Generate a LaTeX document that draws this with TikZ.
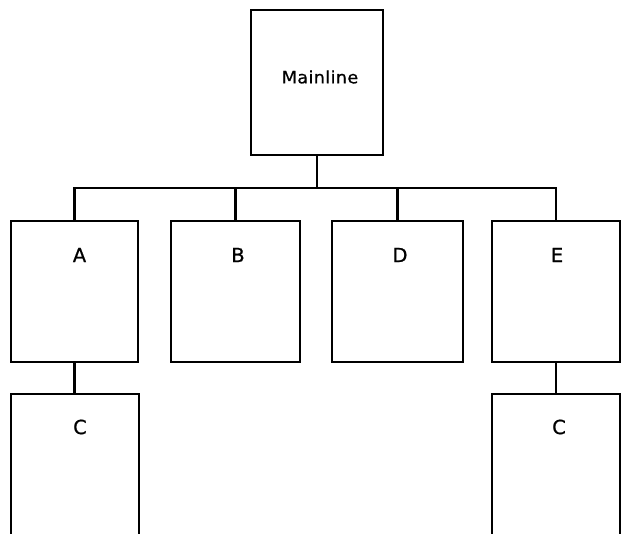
\documentclass[tikz,border=0pt]{standalone}
\usepackage{fontspec}
\setmainfont{DejaVu Sans}
\newfontfamily\mainlinefont[LetterSpace=2,FakeStretch=1.04,FakeBold=0.6]{DejaVu Sans}
\newfontfamily\letterfont[FakeBold=0.8]{DejaVu Sans}
\begin{document}
\begin{tikzpicture}[x=1pt,y=1pt,
  box/.style={draw=black,line width=2.2pt,rectangle,inner sep=0pt,minimum width=127pt,minimum height=141pt},
  lbl/.style={inner sep=0pt,font=\fontsize{19.5}{19.5}\letterfont},
  conn/.style={draw=black,line width=2.2pt}]
\useasboundingbox (0,0) rectangle (621,533);
\clip (0,0) rectangle (621,533);
% boxes
\node[box,minimum width=132pt,minimum height=145pt] (main) at (317,450.5) {};
\node[box,minimum width=127pt] (A) at (74.5,241.5) {};
\node[box,minimum width=129pt] (B) at (235.5,241.5) {};
\node[box,minimum width=131pt] (D) at (397.5,241.5) {};
\node[box,minimum width=128pt] (E) at (556,241.5) {};
\node[box,minimum width=128pt,minimum height=160pt,anchor=north] (CA) at (75,140) {};
\node[box,minimum width=128pt,minimum height=160pt,anchor=north] (CE) at (556,140) {};
% labels
\node[inner sep=0pt,font=\fontsize{17}{17}\mainlinefont] (tmain) at (320,456) {Mainline};
\node[lbl] (tA) at (79.5,278) {A};
\node[lbl] (tB) at (238,278) {B};
\node[lbl] (tD) at (400,278) {D};
\node[lbl] (tE) at (557,278) {E};
\node[lbl] (tCA) at (80,106) {C};
\node[lbl] (tCE) at (559,106) {C};
% connectors
\coordinate (bus) at (317,345);
\draw[conn] (main.south) -- (bus);
\draw[conn] (A.north) |- (bus) -| (E.north);
\draw[conn] (B.north) -- (B.north |- bus);
\draw[conn] (D.north) -- (D.north |- bus);
\draw[conn] (A.south) -- (A.south |- CA.north);
\draw[conn] (E.south) -- (E.south |- CE.north);
\end{tikzpicture}
\end{document}
